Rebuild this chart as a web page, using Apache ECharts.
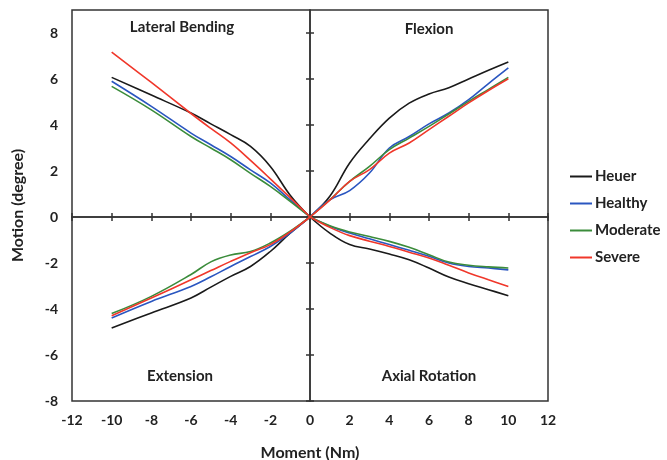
<!DOCTYPE html>
<html>
<head>
  <meta charset="UTF-8">
  <title>Motion vs Moment</title>
  <script src="https://cdn.jsdelivr.net/npm/echarts@6/dist/echarts.min.js"></script>
  <style>
    html, body { margin: 0; background: #fff; }
    #main { width: 667px; height: 460px; }
  </style>
</head>
<body>
<div id="main"></div>
<script>
  // moments (Nm) where the curves were read
  var momentNeg = [-10, -8, -6, -5, -4, -3, -2, -1, 0];
  var momentPos = [0, 1, 2, 3, 4, 5, 6, 7, 8, 9, 10];
  var yTicks = [-8, -6, -4, -2, 0, 2, 4, 6, 8];

  var groups = ['Heuer', 'Healthy', 'Moderate', 'Severe'];
  var colors = ['#1a1a1a', '#2a56c0', '#3b8c3b', '#f0372a'];

  // lateral bending (negative moment, positive motion)
  var lateralHeuer    = [6.07, 5.30, 4.52, 4.05, 3.58, 3.07, 2.20, 0.95, 0];
  var lateralHealthy  = [5.90, 4.81, 3.65, 3.14, 2.63, 2.05, 1.48, 0.74, 0];
  var lateralModerate = [5.68, 4.66, 3.50, 3.00, 2.49, 1.90, 1.33, 0.68, 0];
  var lateralSevere   = [7.17, 5.85, 4.50, 3.85, 3.22, 2.46, 1.66, 0.84, 0];

  // flexion (positive moment, positive motion)
  var flexionHeuer    = [0, 0.90, 2.35, 3.40, 4.30, 4.95, 5.35, 5.62, 6.00, 6.38, 6.74];
  var flexionHealthy  = [0, 0.75, 1.15, 1.91, 3.00, 3.50, 4.05, 4.52, 5.10, 5.80, 6.48];
  var flexionModerate = [0, 0.75, 1.55, 2.20, 2.93, 3.43, 3.94, 4.48, 5.03, 5.55, 6.07];
  var flexionSevere   = [0, 0.73, 1.55, 2.06, 2.78, 3.22, 3.80, 4.38, 4.96, 5.50, 6.01];

  // extension (negative moment, negative motion)
  var extensionHeuer    = [-4.83, -4.17, -3.52, -3.05, -2.58, -2.15, -1.50, -0.70, 0];
  var extensionHealthy  = [-4.39, -3.67, -3.02, -2.60, -2.15, -1.72, -1.28, -0.70, 0];
  var extensionModerate = [-4.20, -3.45, -2.50, -1.95, -1.65, -1.50, -1.13, -0.62, 0];
  var extensionSevere   = [-4.29, -3.52, -2.73, -2.33, -1.93, -1.55, -1.20, -0.65, 0];

  // axial rotation (positive moment, negative motion)
  var axialHeuer    = [0, -0.70, -1.20, -1.39, -1.61, -1.86, -2.22, -2.61, -2.90, -3.16, -3.42];
  var axialHealthy  = [0, -0.40, -0.70, -0.95, -1.20, -1.45, -1.71, -2.00, -2.15, -2.22, -2.30];
  var axialModerate = [0, -0.38, -0.65, -0.85, -1.06, -1.32, -1.64, -1.96, -2.10, -2.17, -2.22];
  var axialSevere   = [0, -0.45, -0.81, -1.05, -1.28, -1.53, -1.78, -2.10, -2.43, -2.73, -3.02];

  var curves = [
    [lateralHeuer, flexionHeuer, extensionHeuer, axialHeuer],
    [lateralHealthy, flexionHealthy, extensionHealthy, axialHealthy],
    [lateralModerate, flexionModerate, extensionModerate, axialModerate],
    [lateralSevere, flexionSevere, extensionSevere, axialSevere]
  ];

  function pairs(xs, ys) {
    var res = [];
    for (var i = 0; i < xs.length; i++) res.push([xs[i], ys[i]]);
    return res;
  }

  var series = [];
  for (var g = 0; g < groups.length; g++) {
    for (var q = 0; q < 4; q++) {
      var xs = (q % 2 === 0) ? momentNeg : momentPos;
      series.push({
        name: groups[g],
        type: 'line',
        data: pairs(xs, curves[g][q]),
        symbol: 'none',
        smooth: 0.4,
        z: 3 + g,
        lineStyle: { color: colors[g], width: 1.6 },
        itemStyle: { color: colors[g] }
      });
    }
  }

  var font = 'Lato';
  var txt = '#222';

  function centerX(inside) {
    return {
      type: 'value', min: -12, max: 12, interval: 2, position: 'bottom',
      axisLine: { onZero: true, lineStyle: { color: '#333', width: 1.5 } },
      axisTick: { show: true, inside: inside, length: 4, lineStyle: { color: '#333', width: 1.5 } },
      axisLabel: { show: false },
      splitLine: { show: false }
    };
  }
  function centerY(inside) {
    return {
      type: 'value', min: -8, max: 9, interval: 2, position: 'left',
      axisLine: { onZero: true, lineStyle: { color: '#333', width: 1.5 } },
      axisTick: { show: true, inside: inside, length: 4, customValues: yTicks, lineStyle: { color: '#333', width: 1.5 } },
      axisLabel: { show: false },
      splitLine: { show: false }
    };
  }

  var option = {
    backgroundColor: '#fff',
    animation: false,
    grid: {
      left: 72, right: 119, top: 10, bottom: 59,
      outerBoundsMode: 'none',
      show: true, borderColor: '#333', borderWidth: 1.5, backgroundColor: 'transparent'
    },
    legend: {
      data: groups,
      orient: 'vertical',
      left: 565, top: 164,
      icon: 'rect',
      itemWidth: 22, itemHeight: 2,
      itemGap: 12,
      textStyle: { fontFamily: font, fontWeight: 'bold', fontSize: 15, color: txt, padding: [0, 0, 0, -2] }
    },
    xAxis: [
      {
        type: 'value', min: -12, max: 12, interval: 2, position: 'bottom',
        name: 'Moment (Nm)', nameLocation: 'middle', nameGap: 44,
        nameTextStyle: { fontFamily: font, fontWeight: 'bold', fontSize: 16, color: txt },
        axisLine: { show: false, onZero: false },
        axisTick: { show: false },
        axisLabel: { margin: 12, fontFamily: font, fontWeight: 'bold', fontSize: 14, color: txt },
        splitLine: { show: false }
      },
      centerX(false),
      centerX(true)
    ],
    yAxis: [
      {
        type: 'value', min: -8, max: 9, interval: 2, position: 'left',
        name: 'Motion (degree)', nameLocation: 'middle', nameGap: 46,
        nameTextStyle: { fontFamily: font, fontWeight: 'bold', fontSize: 16, color: txt },
        axisLine: { show: false, onZero: false },
        axisTick: { show: false },
        axisLabel: { margin: 14, customValues: yTicks, fontFamily: font, fontWeight: 'bold', fontSize: 14, color: txt },
        splitLine: { show: false }
      },
      centerY(false),
      centerY(true)
    ],
    graphic: [
      { type: 'text', x: 182, y: 27, style: { text: 'Lateral Bending', align: 'center', verticalAlign: 'middle', font: 'bold 15px Lato', fill: txt } },
      { type: 'text', x: 429, y: 29, style: { text: 'Flexion', align: 'center', verticalAlign: 'middle', font: 'bold 15px Lato', fill: txt } },
      { type: 'text', x: 180, y: 376, style: { text: 'Extension', align: 'center', verticalAlign: 'middle', font: 'bold 15px Lato', fill: txt } },
      { type: 'text', x: 429, y: 376, style: { text: 'Axial Rotation', align: 'center', verticalAlign: 'middle', font: 'bold 15px Lato', fill: txt } }
    ],
    series: series
  };

  echarts.init(document.getElementById('main')).setOption(option);
</script>
</body>
</html>
